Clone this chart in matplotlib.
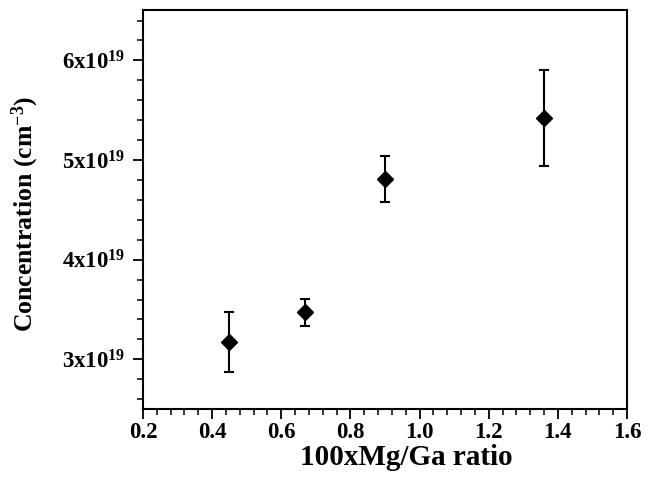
import matplotlib.pyplot as plt
from matplotlib.ticker import MultipleLocator, FuncFormatter

# Mg/Ga ratio (x100) vs concentration (units of 1e19 cm^-3)
ratio = [0.45, 0.67, 0.90, 1.36]
conc = [3.17, 3.47, 4.81, 5.42]
conc_err = [0.30, 0.14, 0.235, 0.48]

plt.rcParams['font.family'] = ['Liberation Serif']
plt.rcParams['font.weight'] = 'bold'
plt.rcParams['mathtext.default'] = 'regular'

fig = plt.figure(figsize=(6.5, 4.78), dpi=100)
ax = fig.add_axes([0.22, 0.144, 0.7446, 0.835])

ax.errorbar(ratio, conc, yerr=conc_err, fmt='D', color='black', ms=8.5,
            elinewidth=1.5, capsize=3.5, capthick=1.5)

ax.set_xlim(0.2, 1.6)
ax.set_ylim(2.5, 6.505)
ax.xaxis.set_major_locator(MultipleLocator(0.2))
ax.xaxis.set_minor_locator(MultipleLocator(0.04))
ax.yaxis.set_major_locator(MultipleLocator(1))
ax.yaxis.set_minor_locator(MultipleLocator(0.2))
ax.xaxis.set_major_formatter(FuncFormatter(lambda v, p: '%.1f' % v))
ax.yaxis.set_major_formatter(FuncFormatter(lambda v, p: '%dx10$^{19}$' % round(v)))

ax.tick_params(axis='both', which='major', direction='out', length=7, width=1.3,
               labelsize=16.5)
ax.tick_params(axis='both', which='minor', direction='out', length=4, width=1.1)
ax.tick_params(axis='x', pad=2)
ax.tick_params(axis='y', pad=6)
for s in ax.spines.values():
    s.set_linewidth(1.5)

ax.set_xlabel('100xMg/Ga ratio', fontsize=21, fontweight='bold')
ax.set_ylabel('Concentration (cm$^{-3}$)', fontsize=18.5, fontweight='bold')
ax.xaxis.set_label_coords(0.544, -0.088)
ax.yaxis.set_label_coords(-0.21, 0.49)

plt.savefig('out.png')
